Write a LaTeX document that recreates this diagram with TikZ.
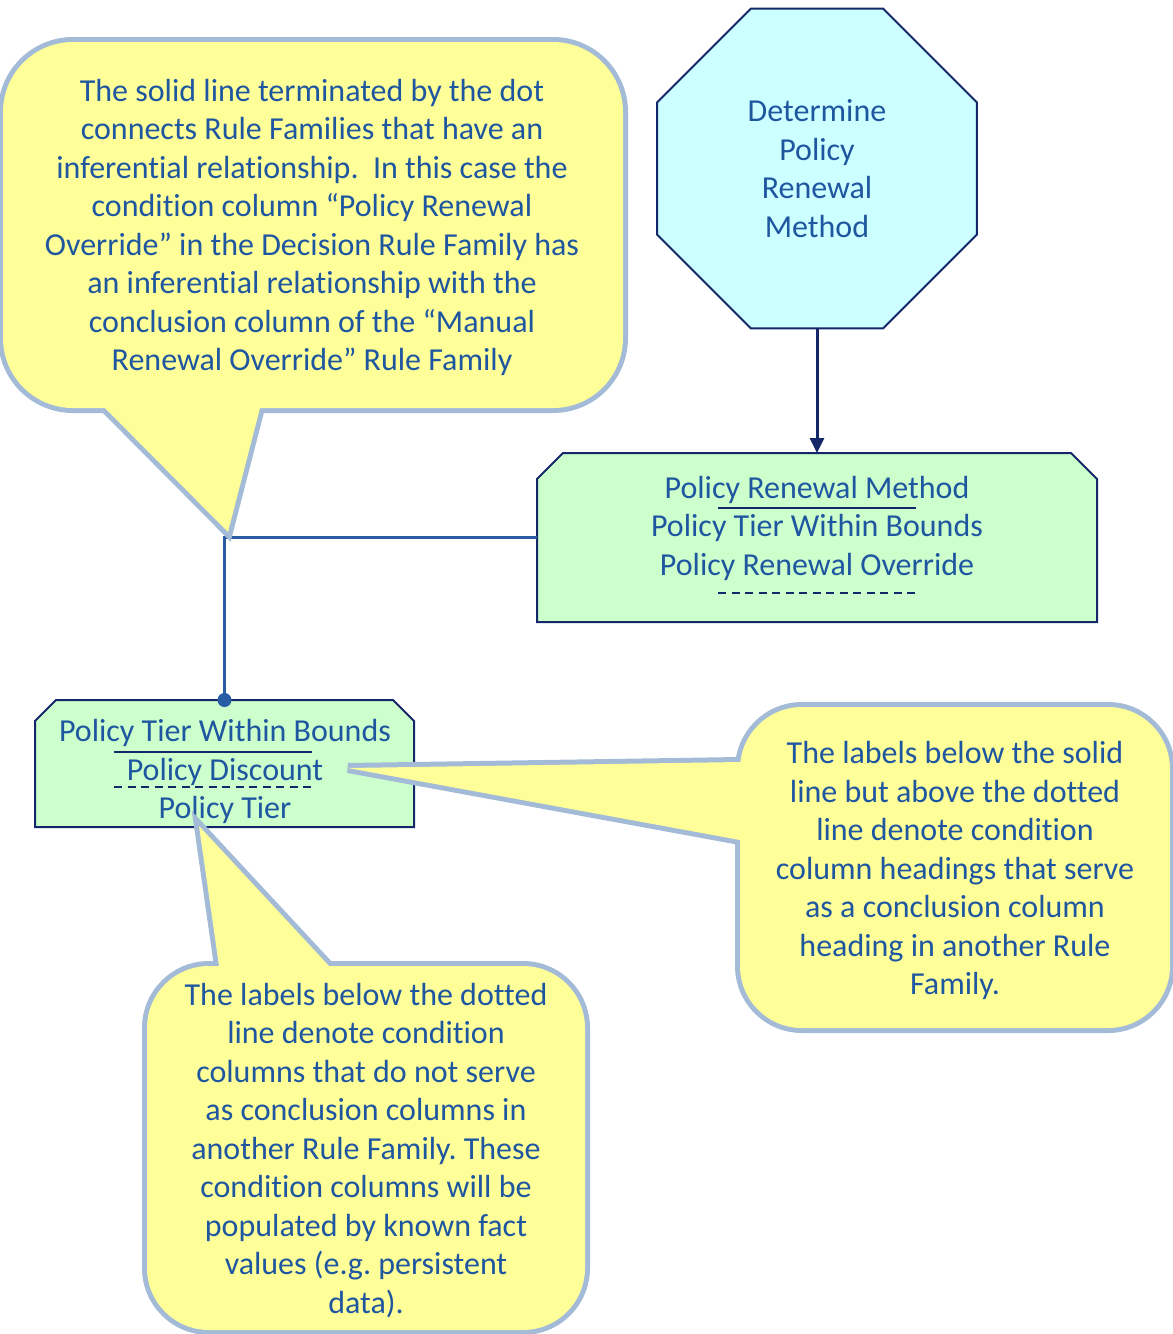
\documentclass[tikz,border=0pt]{standalone}
\usepackage{fontspec}
\setmainfont{Carlito}[Ligatures=CommonOff]
\usetikzlibrary{shapes.geometric,arrows.meta,calc,backgrounds}

\definecolor{inktext}{RGB}{31,86,160}
\definecolor{inkline}{RGB}{20,40,105}
\definecolor{linkblue}{RGB}{40,92,165}
\definecolor{noteyellow}{RGB}{255,255,153}
\definecolor{noteedge}{RGB}{163,187,215}
\definecolor{famgreen}{RGB}{204,255,204}
\definecolor{taskcyan}{RGB}{204,255,255}

\tikzset{
  every node/.style={font=\fontsize{32}{38.5}\selectfont\frenchspacing, text=inktext, align=center},
  task/.style={regular polygon, regular polygon sides=8, minimum size=346pt, inner sep=0pt, outer sep=0pt, draw=inkline, line width=2pt, fill=taskcyan},
  famshape/.style={rectangle, inner sep=0pt, outer sep=0pt},
  famedge/.style={draw=inkline, line width=2pt, fill=famgreen},
  sepsolid/.style={draw=inkline, line width=2pt},
  sepdash/.style={draw=inkline, line width=2pt, dash pattern=on 8pt off 5.5pt},
  infer/.style={draw=linkblue, line width=2.5pt},
  flow/.style={draw=inkline, line width=3pt, -{Triangle[length=15pt,width=14pt]}},
  noteborder/.style={draw=noteedge, line width=10pt},
  notefill/.style={fill=noteyellow},
}

\begin{document}
\begin{tikzpicture}[x=1pt,y=-1pt]
    \useasboundingbox (0,0) rectangle (1173,1334);

    % task and rule families
    \node[task] (decide) at (817,168.5) {Determine\\Policy\\Renewal\\Method};
    \node[famshape, minimum width=560pt, minimum height=169pt] (decfam) at (817,537.5) {};
    \node[famshape, minimum width=379pt, minimum height=127pt] (tierfam) at (224.5,763.5) {};
    \begin{scope}[on background layer]
        \draw[famedge] (decfam.south west) -- ($(decfam.north west)+(0,26)$) -- ($(decfam.north west)+(26,0)$)
            -- ($(decfam.north east)+(-26,0)$) -- ($(decfam.north east)+(0,26)$) -- (decfam.south east) -- cycle;
        \draw[famedge] (tierfam.south west) -- ($(tierfam.north west)+(0,21)$) -- ($(tierfam.north west)+(21,0)$)
            -- ($(tierfam.north east)+(-21,0)$) -- ($(tierfam.north east)+(0,21)$) -- (tierfam.south east) -- cycle;
    \end{scope}
    \node (decfamtxt) at (817,528) {Policy Renewal Method\\Policy Tier Within Bounds\\Policy Renewal Override};
    \draw[sepsolid] (718,508) -- (916,508);
    \draw[sepdash] (718,593) -- (916,593);
    \node (tierfamtxt) at (225,771.5) {Policy Tier Within Bounds\\Policy Discount\\Policy Tier};
    \draw[sepsolid] (114,752) -- (312,752);
    \draw[sepdash] (114,787) -- (312,787);

    \draw[flow] (decide.south) -- (decfam.north);
    \draw[infer] (decfam.west) -| (tierfam.north);
    \fill[linkblue] (tierfam.north) circle (7pt);

    % callouts: borders first, then fills
    \coordinate (tipinfer) at (228,532);
    \coordinate (tipmid) at (348,768);
    \coordinate (tiplow) at (199,826);
    \draw[noteborder, rounded corners=70pt] (3,42) rectangle (623,408);
    \draw[noteborder] (tipinfer) -- ($(tipinfer)!1.12!(105,408)$) -- ($(tipinfer)!1.12!(260,408)$) -- cycle;
    \draw[noteborder, rounded corners=62pt] (740,707) rectangle (1170,1028);
    \draw[noteborder] (tipmid) -- ($(tipmid)!1.05!(740,762)$) -- ($(tipmid)!1.05!(740,840)$) -- cycle;
    \draw[noteborder, rounded corners=62pt] (147,966) rectangle (585,1330);
    \draw[noteborder] (tiplow) -- ($(tiplow)!1.12!(219,966)$) -- ($(tiplow)!1.12!(329,966)$) -- cycle;
    \fill[notefill, rounded corners=70pt] (3,42) rectangle (623,408);
    \fill[notefill] (tipinfer) -- ($(tipinfer)!1.12!(105,408)$) -- ($(tipinfer)!1.12!(260,408)$) -- cycle;
    \fill[notefill, rounded corners=62pt] (740,707) rectangle (1170,1028);
    \fill[notefill] (tipmid) -- ($(tipmid)!1.05!(740,762)$) -- ($(tipmid)!1.05!(740,840)$) -- cycle;
    \fill[notefill, rounded corners=62pt] (147,966) rectangle (585,1330);
    \fill[notefill] (tiplow) -- ($(tiplow)!1.12!(219,966)$) -- ($(tiplow)!1.12!(329,966)$) -- cycle;

    \node (noteinfer) at (312,227.5) {The solid line terminated by the dot\\connects Rule Families that have an\\inferential relationship.\ \ In this case the\\condition column “Policy Renewal\\Override” in the Decision Rule Family has\\an inferential relationship with the\\conclusion column of the “Manual\\Renewal Override” Rule Family};
    \node (notemid) at (955,870.5) {The labels below the solid\\line but above the dotted\\line denote condition\\column headings that serve\\as a conclusion column\\heading in another Rule\\Family.};
    \node (notelow) at (366,1150.5) {The labels below the dotted\\line denote condition\\columns that do not serve\\as conclusion columns in\\another Rule Family. These\\condition columns will be\\populated by known fact\\values (e.g. persistent\\data).};
\end{tikzpicture}
\end{document}
